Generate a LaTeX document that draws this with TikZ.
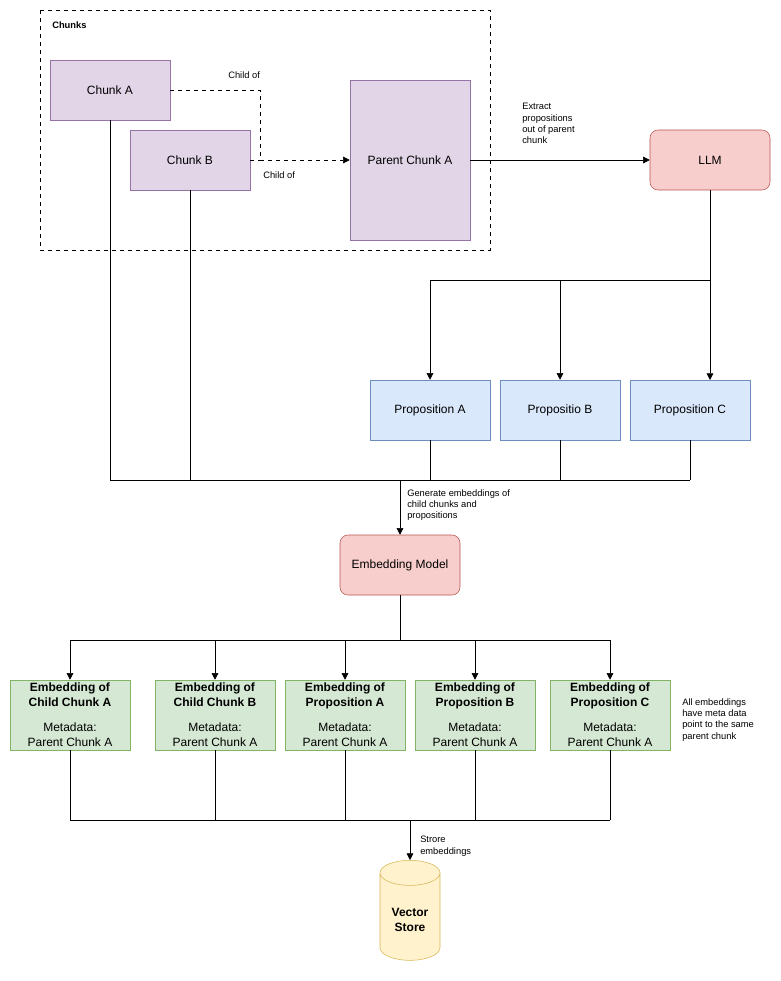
\documentclass[tikz,border=0pt]{standalone}
\usepackage{fontspec}
\setmainfont{Liberation Sans}
\usetikzlibrary{shapes.geometric,arrows.meta}
\definecolor{purpfill}{HTML}{E1D5E7}\definecolor{purpline}{HTML}{9673A6}
\definecolor{redfill}{HTML}{F8CECC}\definecolor{redline}{HTML}{B85450}
\definecolor{bluefill}{HTML}{DAE8FC}\definecolor{blueline}{HTML}{6C8EBF}
\definecolor{greenfill}{HTML}{D5E8D4}\definecolor{greenline}{HTML}{82B366}
\definecolor{yelfill}{HTML}{FFF2CC}\definecolor{yelline}{HTML}{D6B656}
\tikzset{
  box/.style={draw, minimum width=90pt, minimum height=45pt, font=\fontsize{9}{11}\selectfont, align=center, inner sep=1pt},
  chunk/.style={box, fill=purpfill, draw=purpline},
  model/.style={box, fill=redfill, draw=redline, rounded corners=6pt},
  prop/.style={box, fill=bluefill, draw=blueline},
  emb/.style={box, fill=greenfill, draw=greenline, minimum height=52.5pt},
  lbl/.style={font=\fontsize{7}{8.5}\selectfont, align=left, anchor=north west, inner sep=0pt},
  arr/.style={-{Triangle[length=5pt,width=5pt]}},
}
\begin{document}
\begin{tikzpicture}[x=0.75pt, y=-0.75pt]
  \useasboundingbox (0,0) rectangle (781,981);
  % chunks group
  \draw[dashed] (40,10) rectangle (490,250);
  \node[lbl, font=\fontsize{7}{8.5}\selectfont\bfseries] (title) at (52,21) {Chunks};
  \node[chunk] (ca) at (110,90) {Chunk A};
  \node[chunk] (cb) at (190,160) {Chunk B};
  \node[chunk, minimum height=120pt] (pa) at (410,160) {Parent Chunk A};
  \draw[dashed, arr] (ca.east) -- (260,90) -- (260,160) -- (pa.west);
  \draw[dashed] (cb.east) -- (260,160);
  \node[lbl] (l1) at (228,71) {Child of};
  \node[lbl] (l2) at (263,171) {Child of};
  % llm
  \node[model] (llm) at (710,160) {LLM};
  \draw[arr] (pa.east) -- (llm.west);
  \node[lbl] (l3) at (522,103) {Extract\\propositions\\out of parent\\chunk};
  % propositions
  \node[prop] (pra) at (430,410) {Proposition A};
  \node[prop] (prb) at (560,410) {Propositio B};
  \node[prop] (prc) at (690,410) {Proposition C};
  \coordinate (split) at (710,280);
  \draw (llm.south) -- (split);
  \draw (430,280) -- (split);
  \draw[arr] (430,280) -- (pra.north);
  \draw[arr] (560,280) -- (prb.north);
  \draw[arr] (split) -- (710,380);
  % gather
  \draw (110,480) -- (690,480);
  \draw (ca.south) -- (110,480);
  \draw (cb.south) -- (190,480);
  \draw (pra.south) -- (430,480);
  \draw (prb.south) -- (560,480);
  \draw (prc.south) -- (690,480);
  \node[model] (em) at (400,565) {Embedding Model};
  \draw[arr] (400,480) -- (em.north);
  \node[lbl] (l4) at (407,489) {Generate embeddings of\\child chunks and\\propositions};
  % embeddings
  \draw (em.south) -- (400,640);
  \draw (70,640) -- (610,640);
  \foreach \n/\x/\t in {e1/70/Child Chunk A, e2/215/Child Chunk B, e3/345/Proposition A, e4/475/Proposition B, e5/610/Proposition C}{
    \node[emb] (\n) at (\x,715) {\textbf{Embedding of}\\\textbf{\t}\\[8pt]Metadata:\\Parent Chunk A};
    \draw[arr] (\x,640) -- (\n.north);
    \draw (\n.south) -- (\x,820);
  }
  \draw (70,820) -- (610,820);
  \node[lbl] (l5) at (682,698) {All embeddings\\have meta data\\point to the same\\parent chunk};
  % store
  \node[cylinder, shape border rotate=90, draw=yelline, fill=yelfill, minimum width=45pt, minimum height=75pt, aspect=0.55, align=center, font=\fontsize{9}{11}\selectfont\bfseries] (vs) at (410,920) {Vector\\Store};
  \draw[arr] (410,820) -- (vs.top);
  \node[lbl] (l6) at (420,836) {Strore\\embeddings};
\end{tikzpicture}
\end{document}
